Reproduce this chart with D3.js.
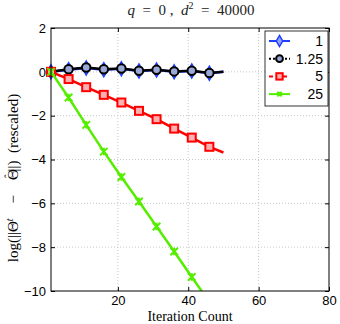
<!DOCTYPE html>
<html>
<head>
<meta charset="utf-8">
<script src="https://cdn.jsdelivr.net/npm/d3@7"></script>
<style>
  body { margin: 0; background: #fff; }
  svg text { font-family: "Liberation Sans", Arial, sans-serif; }
  .serif { font-family: "Liberation Serif", "DejaVu Serif", serif; }
</style>
</head>
<body>
<div id="container"></div>
<script>
/* CONSTANTS AND GLOBALS */
const width = 340,
  height = 324,
  margin = { top: 28, bottom: 33, left: 51, right: 11 };

// data
const iters = [1, 6, 11, 16, 21, 26, 31, 36, 41, 46, 50];
const labels = ["1", "1.25", "5", "25"];
const colors = ["#1f3fff", "#000000", "#ff0000", "#55ee00"];
const vals1 = [0, 0.1, 0.18, 0.1, 0.14, 0.04, 0.08, 0.0, 0.04, -0.06, 0];
const vals125 = [0, 0.12, 0.2, 0.12, 0.15, 0.05, 0.09, 0.02, 0.05, -0.05, 0];
const vals5 = [0, -0.33, -0.7, -1.05, -1.4, -1.78, -2.16, -2.59, -3.0, -3.42, -3.68];
const vals25 = [0, -1.17, -2.42, -3.64, -4.8, -5.92, -7.06, -8.2, -9.36, -10.5, -11.5];
const xTicks = [20, 40, 60, 80];
const yTicks = [2, 0, -2, -4, -6, -8, -10];

const series = [vals1, vals125, vals5, vals25].map((v, i) => ({
  name: labels[i],
  color: colors[i],
  points: iters.map((x, j) => ({ x: x, y: v[j] }))
}));

const svg = d3.select("#container")
  .append("svg")
  .attr("width", width)
  .attr("height", height);

const xScale = d3.scaleLinear().domain([1, 80]).range([margin.left, width - margin.right]);
const yScale = d3.scaleLinear().domain([-10, 2]).range([height - margin.bottom, margin.top]);

// grid
svg.append("g")
  .selectAll("line")
  .data(xTicks.slice(0, -1))
  .join("line")
  .attr("x1", d => xScale(d)).attr("x2", d => xScale(d))
  .attr("y1", yScale(2)).attr("y2", yScale(-10))
  .attr("stroke", "#c8c8c8").attr("stroke-dasharray", "1,2");
svg.append("g")
  .selectAll("line")
  .data(yTicks.slice(1, -1))
  .join("line")
  .attr("x1", xScale(1)).attr("x2", xScale(80))
  .attr("y1", d => yScale(d)).attr("y2", d => yScale(d))
  .attr("stroke", "#c8c8c8").attr("stroke-dasharray", "1,2");

// axes
const xAxis = d3.axisBottom(xScale).tickValues(xTicks).tickSize(-4).tickPadding(5);
const yAxis = d3.axisLeft(yScale).tickValues(yTicks).tickSize(-4).tickPadding(5)
  .tickFormat(d => d < 0 ? "\u2212" + Math.abs(d) : d);

svg.append("g")
  .attr("transform", `translate(0, ${height - margin.bottom})`)
  .call(xAxis)
  .call(g => g.select(".domain").remove())
  .call(g => g.selectAll("text").attr("font-size", 13).attr("fill", "#000"));
svg.append("g")
  .attr("transform", `translate(${margin.left}, 0)`)
  .call(yAxis)
  .call(g => g.select(".domain").remove())
  .call(g => g.selectAll("text").attr("font-size", 13).attr("fill", "#000"));
// right and top ticks
svg.append("g")
  .attr("transform", `translate(${width - margin.right}, 0)`)
  .call(d3.axisRight(yScale).tickValues(yTicks).tickSize(-4).tickFormat(""))
  .call(g => g.select(".domain").remove());
svg.append("g")
  .attr("transform", `translate(0, ${margin.top})`)
  .call(d3.axisTop(xScale).tickValues(xTicks).tickSize(-4).tickFormat(""))
  .call(g => g.select(".domain").remove());

// clip
svg.append("clipPath").attr("id", "clip")
  .append("rect")
  .attr("x", margin.left - 8).attr("y", margin.top)
  .attr("width", width - margin.left - margin.right + 8)
  .attr("height", height - margin.top - margin.bottom);

const plot = svg.append("g").attr("clip-path", "url(#clip)");

const lineGen = d3.line().x(d => xScale(d.x)).y(d => yScale(d.y));

function drawMarker(g, i, x, y, s) {
  if (i === 0) {
    g.append("path")
      .attr("d", `M${x},${y - s * 1.4}L${x + s * 0.8},${y}L${x},${y + s * 1.4}L${x - s * 0.8},${y}Z`)
      .attr("fill", "#8fa0ff").attr("stroke", colors[0]).attr("stroke-width", 1.5);
  } else if (i === 1) {
    g.append("circle").attr("cx", x).attr("cy", y).attr("r", s * 0.85)
      .attr("fill", "#9aa8d8").attr("stroke", colors[1]).attr("stroke-width", 2);
  } else if (i === 2) {
    g.append("rect").attr("x", x - s * 0.8).attr("y", y - s * 0.8)
      .attr("width", s * 1.6).attr("height", s * 1.6)
      .attr("fill", "#ffb0b0").attr("stroke", colors[2]).attr("stroke-width", 2);
  } else {
    g.append("path")
      .attr("d", `M${x - s * 0.75},${y - s * 0.75}L${x + s * 0.75},${y + s * 0.75}M${x - s * 0.75},${y + s * 0.75}L${x + s * 0.75},${y - s * 0.75}M${x},${y - s * 0.75}L${x},${y + s * 0.75}`)
      .attr("stroke", colors[3]).attr("stroke-width", 2).attr("fill", "none");
  }
}

series.forEach((s, i) => {
  plot.append("path")
    .datum(s.points)
    .attr("fill", "none")
    .attr("stroke", s.color)
    .attr("stroke-width", 2.5)
    .attr("d", lineGen);
  const mg = plot.append("g");
  s.points.slice(0, -1).forEach(p => drawMarker(mg, i, xScale(p.x), yScale(p.y), 5));
});

// frame
svg.append("rect")
  .attr("x", margin.left).attr("y", margin.top)
  .attr("width", width - margin.left - margin.right)
  .attr("height", height - margin.top - margin.bottom)
  .attr("fill", "none").attr("stroke", "#000").attr("stroke-width", 1);

// legend
const lg = svg.append("g").attr("transform", "translate(265, 31)");
lg.append("rect").attr("width", 63).attr("height", 75)
  .attr("fill", "#fff").attr("stroke", "#000").attr("stroke-width", 0.8);
const dashes = [null, "2,2", "4,3", null];
labels.forEach((l, i) => {
  const y = 10 + i * 17.7;
  lg.append("line").attr("x1", 4).attr("x2", 25).attr("y1", y).attr("y2", y)
    .attr("stroke", colors[i]).attr("stroke-width", 2)
    .attr("stroke-dasharray", dashes[i]);
  drawMarker(lg, i, 14.5, y, i === 3 ? 3 : 4);
  lg.append("text").attr("x", 58).attr("y", y + 5)
    .attr("text-anchor", "end").attr("font-size", 14).text(l);
});

// title
svg.append("text").attr("class", "serif")
  .attr("x", 191).attr("y", 15).attr("text-anchor", "middle")
  .attr("font-size", 15).attr("fill", "#222")
  .attr("xml:space", "preserve")
  .html('<tspan font-style="italic">q</tspan>  =  0 ,  <tspan font-style="italic">d</tspan><tspan dy="-6" font-size="10">2</tspan><tspan dy="6">  =  40000</tspan>');

// axis labels
svg.append("text").attr("class", "serif")
  .attr("x", 190).attr("y", 321).attr("text-anchor", "middle")
  .attr("font-size", 14).text("Iteration Count");

svg.append("text").attr("class", "serif")
  .attr("transform", "translate(18, 178) rotate(-90)")
  .attr("text-anchor", "middle").attr("font-size", 15)
  .attr("xml:space", "preserve")
  .html('log(||\u0398<tspan dy="-5" font-size="10" font-style="italic">t</tspan><tspan dy="5">    \u2212    \u0398</tspan><tspan dx="-9" dy="-6" font-size="11">\u02C6</tspan><tspan dx="3" dy="6">||)  (rescaled)</tspan>');
</script>
</body>
</html>
